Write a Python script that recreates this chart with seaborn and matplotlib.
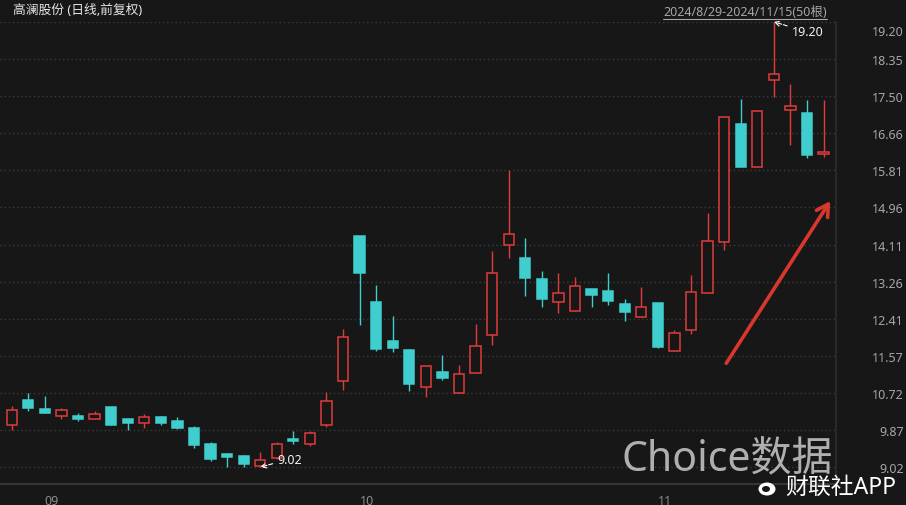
import numpy as np
import pandas as pd
import matplotlib
matplotlib.use("Agg")
import matplotlib.pyplot as plt
import matplotlib.transforms as mtransforms
import seaborn as sns
from matplotlib.lines import Line2D
from matplotlib.patches import Ellipse

BG = "#171717"
UP = "#e03b3b"
DOWN = "#3fcdcd"
GRID = "#3c3c3c"
TICK = "#a6a6a6"

# daily OHLC, 2024/8/29 - 2024/11/15 (50 bars)
opens = [9.99, 10.56, 10.35, 10.18, 10.20, 10.13, 10.40, 10.12, 10.02, 10.17,
         10.08, 9.91, 9.55, 9.32, 9.27, 9.05, 9.23, 9.66, 9.56, 9.98,
         10.98, 14.31, 12.80, 11.90, 11.70, 10.86, 11.20, 10.72, 11.18, 12.03,
         14.11, 13.80, 13.32, 12.80, 12.60, 13.09, 13.05, 12.75, 12.46, 12.77,
         11.68, 12.16, 12.99, 14.17, 16.87, 15.89, 17.88, 17.19, 17.12, 16.18]
highs = [10.42, 10.72, 10.65, 10.37, 10.25, 10.30, 10.40, 10.14, 10.24, 10.19,
         10.17, 9.95, 9.59, 9.34, 9.30, 9.37, 9.59, 9.85, 9.84, 10.73,
         12.18, 14.31, 13.18, 12.48, 11.72, 11.33, 11.59, 11.36, 12.29, 13.96,
         15.82, 14.26, 13.51, 13.45, 13.37, 13.09, 13.45, 12.86, 13.13, 12.77,
         12.16, 13.42, 14.82, 17.02, 17.44, 17.19, 19.20, 17.78, 17.41, 17.42]
lows = [9.88, 10.30, 10.25, 10.12, 10.07, 10.12, 9.99, 9.88, 9.91, 9.99,
        9.89, 9.46, 9.15, 9.03, 9.03, 9.02, 9.21, 9.55, 9.50, 9.94,
        10.79, 12.28, 11.68, 11.66, 10.77, 10.62, 11.02, 10.72, 11.17, 11.81,
        13.80, 12.93, 12.67, 12.54, 12.60, 12.67, 12.73, 12.35, 12.46, 11.75,
        11.68, 12.06, 12.99, 13.98, 15.89, 15.89, 17.49, 16.38, 16.09, 16.10]
closes = [10.33, 10.37, 10.26, 10.32, 10.12, 10.24, 9.99, 10.02, 10.16, 10.04,
          9.91, 9.53, 9.21, 9.25, 9.08, 9.18, 9.55, 9.61, 9.80, 10.53,
          11.99, 13.46, 11.71, 11.74, 10.91, 11.33, 11.06, 11.15, 11.80, 13.46,
          14.35, 13.34, 12.86, 12.99, 13.15, 12.96, 12.81, 12.57, 12.67, 11.77,
          12.08, 13.02, 14.18, 17.02, 15.89, 17.16, 18.00, 17.28, 16.16, 16.22]

y_ticks = [9.02, 9.87, 10.72, 11.57, 12.41, 13.26, 14.11, 14.96, 15.81, 16.66, 17.50, 18.35, 19.20]
month_pos = [2, 21, 39]
month_labels = ["09", "10", "11"]

sns.set_theme(style="dark", rc={
    "axes.facecolor": BG,
    "figure.facecolor": BG,
    "axes.edgecolor": GRID,
})
plt.rcParams["font.family"] = ["Noto Sans", "Noto Sans CJK SC", "DejaVu Sans"]

df = pd.DataFrame({"open": opens, "high": highs, "low": lows, "close": closes})
df["up"] = df["close"] >= df["open"]
df["color"] = np.where(df["up"], UP, DOWN)
df["bottom"] = df[["open", "close"]].min(axis=1)
df["height"] = (df["close"] - df["open"]).abs().clip(lower=0.03)

fig = plt.figure(figsize=(9.06, 5.06), dpi=100)
ax = fig.add_axes([0, 0.0415, 0.9227, 0.914])

# wicks, then bodies (hollow for up days)
ax.vlines(df.index, df["low"], df["high"], colors=df["color"], lw=1, zorder=2)
ax.bar(df.index, df["height"], bottom=df["bottom"], width=0.62,
       facecolor=np.where(df["up"], BG, DOWN), edgecolor=df["color"], lw=1.1, zorder=3)

ax.set_xlim(-0.706, 49.75)
ax.set_ylim(8.634, 19.209)

ax.set_yticks(y_ticks)
ax.set_yticklabels([f"{v:.2f}" for v in y_ticks], ha="right")
ax.yaxis.tick_right()
ax.tick_params(axis="y", length=0, pad=49, labelsize=9, labelcolor=TICK)
top_lbl = ax.get_yticklabels()[-1]
top_lbl.set_va("top")
top_lbl.set_transform(top_lbl.get_transform()
                      + mtransforms.ScaledTranslation(0, -3 / 100, fig.dpi_scale_trans))
ax.grid(axis="y", color=GRID, linestyle=(0, (1, 2)), lw=1)
ax.grid(axis="x", visible=False)

ax.set_xticks(month_pos)
ax.set_xticklabels(month_labels, ha="left")
ax.tick_params(axis="x", length=0, pad=7, labelsize=9, labelcolor="#8c8c8c")

for s in ["top", "left"]:
    ax.spines[s].set_visible(False)
ax.spines["bottom"].set_color("#3a3a3a")
ax.spines["right"].set_color("#2c2c2c")

# high / low markers
ax.annotate("19.20", xy=(46, highs[46]), xytext=(18, -10), textcoords="offset pixels",
            ha="left", va="center", color="#f2f2f2", fontsize=9,
            arrowprops=dict(arrowstyle="->", color="white", lw=0.8, ls="--", shrinkA=1, shrinkB=0))
ax.annotate("9.02", xy=(15, lows[15]), xytext=(17, 8), textcoords="offset pixels",
            ha="left", va="center", color="#f2f2f2", fontsize=9,
            arrowprops=dict(arrowstyle="->", color="white", lw=0.8, ls="--", shrinkA=1, shrinkB=0))

# red trend arrow
ax.annotate("", xy=(0.995, 0.617), xytext=(0.867, 0.256), xycoords="axes fraction",
            arrowprops=dict(arrowstyle="->,head_length=0.7,head_width=0.4",
                            color="#d8372c", lw=2.6))

# header texts
fig.text(13 / 906, 1 - 11 / 506, "高澜股份 (日线,前复权)", ha="left", va="center",
         fontsize=9.2, color="#e6e6e6")
rng = fig.text(827 / 906, 1 - 12 / 506, "2024/8/29-2024/11/15(50根)", ha="right", va="center",
               fontsize=9, color="#a6a6a6")
fig.canvas.draw()
bb = rng.get_window_extent()
fig.add_artist(Line2D([bb.x0 / 906, bb.x1 / 906], [(bb.y0 - 1) / 506] * 2,
                      transform=fig.transFigure, color="#a6a6a6", lw=0.8))

# watermarks
fig.text(622 / 906, 1 - 460 / 506, "Choice数据", ha="left", va="center",
         fontsize=29.5, color="#d6d6d6", alpha=0.8)
fig.text(896 / 906, 1 - 488 / 506, "财联社APP", ha="right", va="center",
         fontsize=16.5, color="white")
fig.add_artist(Ellipse((767 / 906, 1 - 490 / 506), 17 / 906, 13 / 506,
                       transform=fig.transFigure, facecolor="white", edgecolor="none"))
fig.add_artist(Ellipse((766 / 906, 1 - 490 / 506), 8 / 906, 6 / 506,
                       transform=fig.transFigure, facecolor=BG, edgecolor="none"))

fig.savefig("out.png", dpi=100, facecolor=BG)
